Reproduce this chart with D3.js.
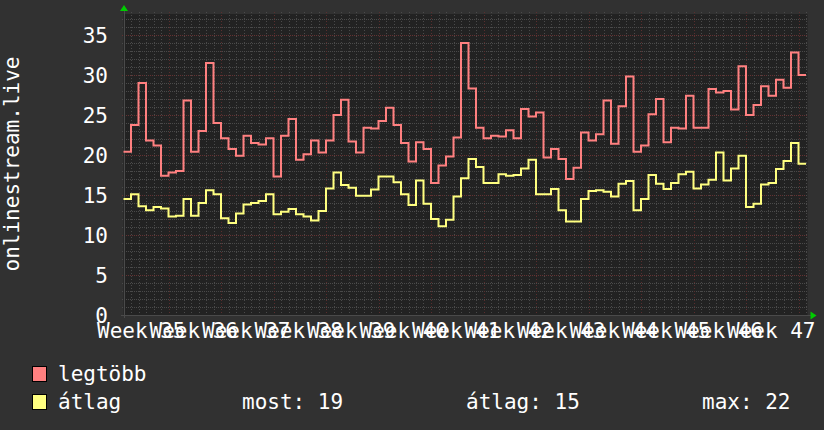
<!DOCTYPE html>
<html><head><meta charset="utf-8">
<script src="https://cdnjs.cloudflare.com/ajax/libs/d3/7.8.5/d3.min.js"></script>
<style>html,body{margin:0;padding:0;background:#313131;}svg{display:block;}</style>
</head><body>
<svg id="c" width="824" height="430"></svg>
<script>
const weekLabels = ["Week 35","Week 36","Week 37","Week 38","Week 39","Week 40","Week 41","Week 42","Week 43","Week 44","Week 45","Week 46","Week 47"];
const yTicks = [0,5,10,15,20,25,30,35];
const seriesNames = ["legtöbb","átlag"];
const seriesColors = ["#ff8080","#ffff80"];
const maxValues = [20.4,23.75,29.0,21.8,21.2,17.4,17.8,18.0,26.8,20.4,23.0,31.5,24.0,22.1,20.75,19.9,22.4,21.5,21.3,22.1,
  17.3,22.4,24.5,19.4,20.1,21.8,20.3,21.8,25.0,26.9,21.7,20.3,23.4,23.3,24.25,25.9,23.75,21.5,19.2,21.6,
  20.75,16.5,18.7,19.8,22.2,34.0,28.3,23.4,22.1,22.4,22.3,23.1,22.1,25.75,24.8,25.3,19.7,20.75,19.5,17.0,
  18.4,22.8,21.8,22.6,26.8,21.4,26.1,29.8,20.4,21.2,25.1,27.0,21.6,23.4,23.3,27.4,23.4,23.4,28.25,27.8,
  28.0,25.7,31.1,25.0,26.25,28.6,27.4,29.4,28.4,32.8,30.0];
const avgValues = [14.5,15.1,13.6,13.1,13.5,13.3,12.3,12.4,14.5,12.4,14.0,15.6,15.1,12.1,11.5,12.7,13.8,14.0,14.25,15.1,
  12.6,12.9,13.25,12.6,12.3,11.8,13.0,15.8,17.8,16.25,15.9,14.9,14.9,15.7,17.3,17.3,16.6,15.1,13.75,16.8,
  13.9,12.0,11.1,11.9,14.8,17.1,19.5,18.5,16.5,16.5,17.6,17.4,17.5,18.3,19.4,15.1,15.1,15.75,13.1,11.7,
  11.7,14.5,15.5,15.6,15.4,14.8,16.4,16.75,13.1,14.5,17.5,16.4,15.75,16.5,17.6,17.9,15.8,16.3,16.9,20.3,
  16.8,18.3,19.9,13.5,13.9,16.3,16.5,18.25,19.25,21.5,18.9];
const legendStats = ["most: 19","átlag: 15","max: 22"];

const svg = d3.select("#c");
const FONT = "'DejaVu Sans Mono', monospace";
const L = 123.5, R = 807.5, T = 14, B = 315;
const nDays = maxValues.length;
const x = d3.scaleLinear().domain([0, (R - L) / 7.5]).range([L, R]);
const y = d3.scaleLinear().domain([0, (B - T) / 8]).range([B, T]);

svg.append("rect").attr("x", L).attr("y", T).attr("width", R - L).attr("height", B - T).attr("fill", "#222222");

const g = svg.append("g").attr("shape-rendering", "crispEdges");
d3.range(1, Math.floor(y.domain()[1]) + 1).forEach(v => {
  const major = v % 5 === 0;
  g.append("line").attr("x1", L - 2).attr("x2", R).attr("y1", Math.round(y(v)) + 0.5).attr("y2", Math.round(y(v)) + 0.5)
    .attr("stroke", major ? "#643232" : "#4a4a4a").attr("stroke-dasharray", "1,1");
});
d3.range(1, Math.floor(x.domain()[1]) + 1).forEach(d => {
  const major = (d - 6) % 7 === 0 && d >= 6;
  const px = Math.round(x(d)) + 0.5;
  g.append("line").attr("x1", px).attr("x2", px).attr("y1", T - 2).attr("y2", B + (major ? 3 : 0))
    .attr("stroke", major ? "#5a2e2e" : "#4a4a4a").attr("stroke-dasharray", "1,2");
});
g.append("line").attr("x1", L - 3).attr("x2", R + 3).attr("y1", B + 0.5).attr("y2", B + 0.5).attr("stroke", "#4a4a4a");
g.append("line").attr("x1", L + 0.5).attr("x2", L + 0.5).attr("y1", T - 3).attr("y2", B + 3).attr("stroke", "#4a4a4a");
svg.append("path").attr("d", `M${L - 3.5},${T - 3} L${L + 4.5},${T - 3} L${L + 0.5},${T - 9} Z`).attr("fill", "#00cc00");
svg.append("path").attr("d", `M${R + 3},${B - 3.5} L${R + 3},${B + 4.5} L${R + 9},${B + 0.5} Z`).attr("fill", "#00cc00");

const line = d3.line().x(d => x(d[0])).y(d => y(d[1])).curve(d3.curveStepAfter);
[maxValues, avgValues].forEach((vals, i) => {
  const pts = vals.map((v, k) => [k, v]);
  pts.push([nDays, vals[vals.length - 1]]);
  svg.append("path").attr("d", line(pts)).attr("fill", "none").attr("stroke", seriesColors[i]).attr("stroke-width", 2);
});

yTicks.forEach(v => {
  svg.append("text").attr("x", 108).attr("y", y(v)).attr("dy", "0.36em").attr("text-anchor", "end")
    .attr("font-family", FONT).attr("font-size", 21).attr("fill", "#ffffff").text(v);
});
weekLabels.forEach((t, i) => {
  svg.append("text").attr("x", x(2.5 + 7 * i) - 1).attr("y", 338).attr("text-anchor", "middle")
    .attr("font-family", FONT).attr("font-size", 21).attr("fill", "#ffffff").text(t);
});
svg.append("text").attr("transform", "translate(18.5,164) rotate(-90)").attr("text-anchor", "middle")
  .attr("font-family", FONT).attr("font-size", 21).attr("fill", "#ffffff").text("onlinestream.live");

const legY = [366, 394];
seriesNames.forEach((n, i) => {
  svg.append("rect").attr("x", 32.5).attr("y", legY[i] + 0.5).attr("width", 14).attr("height", 15)
    .attr("fill", seriesColors[i]).attr("stroke", "#000").attr("stroke-width", 1);
  svg.append("text").attr("x", 58).attr("y", legY[i] + 15).attr("font-family", FONT).attr("font-size", 21)
    .attr("fill", "#ffffff").text(n);
});
const statX = [242, 466, 702];
legendStats.forEach((t, i) => {
  svg.append("text").attr("x", statX[i]).attr("y", 409).attr("font-family", FONT).attr("font-size", 21)
    .attr("fill", "#ffffff").text(t);
});
</script>
</body></html>
